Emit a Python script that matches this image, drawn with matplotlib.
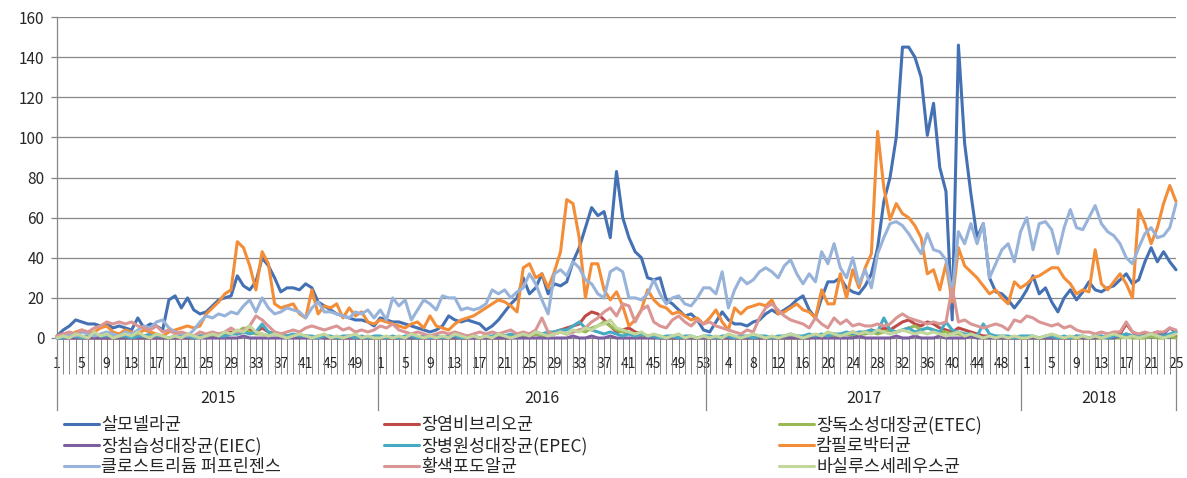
import numpy as np
import matplotlib
matplotlib.use("Agg")
from matplotlib import pyplot as plt
from matplotlib import transforms
from matplotlib.lines import Line2D

plt.rcParams["font.family"] = ["Noto Sans CJK KR", "DejaVu Sans"]

# weekly counts, 2015 w1 .. 2018 w25
years = ["2015", "2016", "2017", "2018"]
weeks_per_year = [52, 53, 51, 25]

salmonella = (
    [1, 4, 6, 9, 8, 7, 7, 6, 7, 5, 6, 5, 4, 10, 5, 7, 6, 4, 19, 21, 15, 20, 14, 12, 13, 16, 19, 20, 21, 31, 26, 24, 28, 40, 36, 30, 23, 25, 25, 24, 27, 25, 18, 16, 14, 12, 11, 10, 9, 9, 8, 6]
    + [10, 9, 8, 8, 7, 6, 5, 4, 3, 4, 6, 11, 9, 8, 9, 8, 7, 4, 6, 9, 13, 17, 20, 30, 22, 25, 32, 22, 27, 26, 28, 38, 45, 55, 65, 61, 63, 50, 83, 60, 50, 43, 40, 30, 29, 30, 19, 17, 14, 11, 12, 9, 4]
    + [3, 8, 13, 9, 7, 7, 6, 8, 9, 12, 14, 12, 14, 16, 19, 21, 14, 10, 20, 28, 28, 30, 25, 23, 22, 26, 32, 45, 68, 80, 100, 145, 145, 140, 130, 101, 117, 85, 73, 9, 146, 97, 72, 50, 57, 30, 23, 22, 19, 15, 19]
    + [24, 31, 22, 25, 18, 13, 20, 24, 19, 23, 28, 24, 23, 25, 26, 29, 32, 27, 29, 38, 45, 38, 43, 38, 34]
)
vibrio = (
    [0, 0, 0, 0, 0, 0, 0, 0, 0, 0, 0, 0, 0, 0, 0, 0, 0, 0, 0, 0, 0, 0, 0, 1, 1, 2, 1, 2, 3, 2, 3, 4, 3, 5, 3, 2, 2, 1, 1, 1, 1, 0, 1, 0, 0, 0, 0, 0, 0, 0, 0, 0]
    + [0, 0, 0, 0, 0, 0, 0, 0, 0, 0, 0, 0, 0, 0, 0, 0, 0, 0, 0, 0, 0, 0, 1, 1, 1, 2, 1, 2, 3, 4, 5, 6, 7, 11, 13, 12, 9, 6, 3, 4, 5, 3, 2, 1, 1, 0, 0, 0, 0, 0, 0, 0, 0]
    + [0, 0, 0, 0, 0, 0, 0, 0, 0, 0, 0, 0, 0, 0, 0, 0, 0, 1, 1, 1, 2, 1, 2, 3, 2, 3, 4, 3, 5, 4, 6, 8, 9, 7, 6, 8, 7, 5, 4, 3, 5, 4, 3, 2, 1, 1, 0, 0, 0, 0, 0]
    + [0, 0, 0, 0, 0, 0, 0, 0, 0, 0, 0, 0, 0, 1, 1, 2, 7, 3, 1, 1, 1, 1, 2, 1, 1]
)
etec = (
    [0, 0, 1, 0, 0, 1, 0, 0, 1, 0, 0, 0, 1, 0, 0, 0, 1, 0, 0, 0, 1, 0, 0, 1, 0, 1, 2, 1, 2, 3, 5, 3, 2, 2, 1, 3, 2, 1, 1, 0, 1, 0, 0, 1, 0, 0, 0, 1, 0, 0, 0, 0]
    + [0, 0, 0, 0, 0, 0, 0, 0, 1, 0, 0, 0, 0, 0, 0, 1, 0, 0, 0, 0, 0, 1, 0, 1, 1, 2, 1, 2, 2, 3, 2, 3, 4, 3, 5, 6, 8, 6, 4, 3, 2, 2, 1, 1, 0, 1, 0, 0, 0, 0, 0, 0, 0]
    + [0, 0, 0, 0, 0, 0, 0, 0, 0, 0, 0, 0, 0, 0, 0, 0, 0, 1, 0, 1, 1, 1, 2, 1, 2, 2, 3, 2, 3, 4, 3, 4, 5, 6, 4, 5, 4, 3, 3, 2, 2, 1, 1, 1, 0, 0, 0, 0, 0, 0, 0]
    + [0, 0, 0, 0, 0, 0, 0, 0, 0, 0, 0, 0, 0, 0, 0, 0, 1, 0, 0, 0, 1, 0, 0, 1, 0]
)
eiec = (
    [0, 0, 0, 0, 0, 0, 0, 0, 0, 0, 0, 0, 0, 0, 0, 0, 0, 0, 0, 0, 0, 0, 0, 0, 0, 0, 0, 0, 0, 0, 1, 0, 0, 0, 0, 0, 0, 0, 0, 0, 0, 0, 0, 0, 0, 0, 0, 0, 0, 0, 0, 0]
    + [0, 0, 0, 0, 0, 0, 0, 0, 0, 0, 0, 0, 0, 0, 0, 0, 0, 0, 0, 0, 0, 0, 0, 0, 0, 0, 0, 0, 0, 0, 0, 1, 0, 0, 1, 0, 0, 1, 0, 0, 0, 0, 0, 0, 0, 0, 0, 0, 0, 0, 0, 0, 0]
    + [0, 0, 0, 0, 0, 0, 0, 0, 0, 0, 0, 0, 0, 0, 0, 0, 0, 0, 0, 0, 0, 0, 0, 0, 1, 0, 0, 0, 0, 0, 1, 0, 0, 1, 0, 0, 0, 1, 0, 0, 0, 0, 1, 0, 0, 0, 0, 0, 0, 0, 0]
    + [0, 0, 0, 0, 0, 0, 0, 0, 1, 0, 0, 0, 1, 0, 0, 1, 2, 1, 1, 2, 2, 3, 2, 5, 3]
)
epec = (
    [0, 0, 1, 1, 0, 1, 2, 1, 1, 2, 1, 1, 0, 1, 1, 2, 1, 1, 0, 1, 1, 1, 0, 1, 1, 2, 1, 1, 2, 2, 3, 2, 3, 7, 3, 2, 1, 1, 2, 1, 1, 1, 0, 1, 1, 0, 1, 1, 0, 1, 0, 1]
    + [1, 0, 1, 0, 1, 1, 0, 1, 0, 1, 0, 1, 1, 0, 1, 1, 0, 1, 1, 2, 1, 2, 1, 2, 2, 3, 2, 3, 3, 4, 4, 6, 8, 5, 4, 3, 2, 3, 2, 1, 2, 1, 2, 1, 1, 0, 1, 1, 0, 1, 1, 0, 1]
    + [1, 0, 1, 1, 0, 1, 1, 0, 1, 1, 0, 1, 1, 2, 1, 1, 2, 1, 2, 1, 2, 2, 3, 2, 3, 3, 4, 3, 10, 4, 3, 4, 5, 3, 4, 5, 4, 3, 8, 4, 3, 2, 2, 1, 7, 2, 1, 1, 1, 0, 1]
    + [1, 1, 0, 1, 1, 0, 1, 0, 1, 1, 0, 1, 1, 0, 1, 1, 2, 1, 1, 1, 2, 1, 1, 2, 3]
)
campylobacter = (
    [1, 2, 1, 3, 4, 2, 3, 5, 6, 3, 2, 4, 3, 2, 4, 3, 2, 1, 3, 4, 5, 6, 5, 6, 12, 15, 18, 22, 24, 48, 45, 36, 24, 43, 37, 17, 15, 16, 17, 12, 10, 24, 12, 16, 15, 17, 10, 15, 11, 13, 8, 7]
    + [9, 8, 7, 6, 5, 7, 8, 5, 11, 6, 5, 4, 7, 9, 10, 11, 13, 15, 17, 19, 18, 16, 13, 35, 37, 30, 32, 25, 33, 43, 69, 67, 50, 20, 37, 37, 24, 19, 23, 16, 6, 9, 14, 24, 19, 16, 15, 12, 13, 11, 9, 10, 7]
    + [10, 14, 8, 4, 15, 12, 15, 16, 17, 16, 19, 12, 13, 15, 17, 14, 13, 10, 24, 17, 17, 32, 20, 34, 25, 35, 42, 103, 75, 59, 67, 62, 60, 56, 50, 32, 34, 24, 37, 18, 45, 36, 33, 30, 26, 22, 24, 20, 17, 28, 25]
    + [27, 30, 31, 33, 35, 35, 30, 27, 22, 24, 23, 44, 27, 24, 28, 32, 27, 20, 64, 57, 47, 55, 67, 76, 68]
)
clostridium = (
    [0, 1, 2, 1, 3, 2, 1, 2, 3, 2, 1, 3, 2, 4, 6, 5, 8, 9, 5, 3, 2, 1, 4, 8, 11, 10, 12, 11, 13, 12, 16, 19, 13, 20, 15, 12, 13, 15, 14, 13, 10, 15, 18, 13, 13, 12, 11, 10, 13, 12, 14, 10]
    + [14, 9, 20, 16, 19, 9, 14, 19, 17, 14, 21, 20, 20, 14, 15, 14, 15, 17, 24, 22, 24, 20, 23, 25, 32, 27, 19, 12, 32, 34, 31, 38, 35, 29, 27, 22, 20, 33, 35, 33, 20, 20, 19, 22, 29, 22, 17, 20, 21, 17, 16, 20, 25]
    + [25, 22, 33, 15, 24, 30, 27, 29, 33, 35, 33, 30, 36, 39, 32, 27, 32, 28, 43, 37, 47, 35, 30, 40, 27, 34, 25, 42, 50, 57, 58, 56, 52, 47, 42, 52, 44, 43, 39, 22, 53, 47, 57, 47, 57, 30, 37, 44, 47, 38, 53]
    + [60, 44, 57, 58, 54, 42, 55, 64, 55, 54, 60, 66, 57, 53, 51, 47, 40, 37, 45, 52, 55, 50, 51, 55, 67]
)
staph = (
    [1, 2, 3, 2, 4, 3, 5, 6, 8, 7, 8, 7, 8, 6, 5, 4, 6, 3, 4, 2, 3, 2, 1, 3, 2, 3, 2, 3, 5, 3, 4, 6, 11, 9, 6, 3, 2, 3, 4, 3, 5, 6, 5, 4, 5, 6, 4, 5, 3, 4, 3, 4]
    + [6, 5, 7, 4, 3, 2, 3, 2, 1, 2, 3, 2, 3, 2, 1, 2, 3, 2, 3, 2, 3, 4, 2, 3, 2, 4, 10, 3, 2, 3, 2, 3, 4, 5, 8, 10, 13, 15, 11, 17, 16, 8, 14, 16, 8, 6, 5, 9, 11, 8, 6, 9, 7]
    + [8, 6, 5, 4, 3, 2, 4, 3, 10, 15, 17, 14, 11, 9, 8, 7, 5, 10, 7, 5, 10, 7, 9, 6, 7, 6, 6, 7, 6, 7, 10, 12, 10, 9, 8, 7, 8, 7, 8, 25, 8, 9, 7, 6, 5, 6, 7, 6, 4, 9, 8]
    + [11, 10, 8, 7, 6, 7, 5, 6, 4, 3, 3, 2, 3, 2, 3, 3, 8, 3, 2, 3, 2, 3, 3, 5, 4]
)
bacillus = (
    [0, 1, 0, 2, 1, 0, 3, 1, 2, 0, 1, 2, 1, 3, 1, 0, 2, 1, 0, 1, 0, 2, 1, 0, 1, 2, 1, 3, 2, 4, 3, 6, 3, 2, 1, 2, 1, 0, 1, 2, 1, 0, 1, 2, 0, 1, 0, 1, 2, 0, 1, 0]
    + [0, 1, 0, 1, 0, 2, 1, 0, 1, 0, 1, 0, 2, 1, 0, 1, 0, 1, 0, 2, 1, 0, 1, 2, 1, 3, 2, 1, 2, 3, 2, 4, 3, 5, 4, 6, 7, 9, 5, 4, 3, 2, 3, 1, 2, 1, 0, 1, 2, 0, 1, 0, 1]
    + [0, 1, 0, 2, 1, 0, 1, 2, 1, 0, 1, 0, 1, 2, 1, 0, 1, 2, 1, 3, 2, 1, 2, 3, 2, 3, 2, 4, 3, 2, 3, 4, 3, 2, 3, 2, 3, 2, 1, 2, 3, 1, 2, 1, 0, 1, 0, 1, 0, 1, 0]
    + [0, 1, 0, 1, 2, 1, 0, 1, 0, 1, 0, 1, 0, 1, 2, 1, 0, 1, 0, 1, 2, 1, 0, 1, 2]
)

series_names = ["살모넬라균", "장염비브리오균", "장독소성대장균(ETEC)",
                "장침습성대장균(EIEC)", "장병원성대장균(EPEC)", "캄필로박터균",
                "클로스트리듐 퍼프린젠스", "황색포도알균", "바실루스세레우스균"]
series_values = [salmonella, vibrio, etec, eiec, epec, campylobacter,
                 clostridium, staph, bacillus]
series_colors = ["#4471B3", "#BE4B48", "#98B954", "#7D5FA0", "#46AAC5",
                 "#F38D37", "#98B3DA", "#D99694", "#C3D69B"]

weeks = [w for n in weeks_per_year for w in range(1, n + 1)]
n_points = len(weeks)
for vals in series_values:
    assert len(vals) == n_points, len(vals)
x = np.arange(n_points)

grey = "#878787"
text_col = "#262626"

fig = plt.figure(figsize=(11.87, 4.78), dpi=100)
ax = fig.add_axes([57 / 1187, 140 / 478, 1119 / 1187, 321 / 478])

lines = []
for k, (name, vals, col) in enumerate(zip(series_names, series_values, series_colors)):
    ln, = ax.plot(x, vals, color=col, lw=2.2, solid_joinstyle="round",
                  solid_capstyle="round", zorder=3 + k, clip_on=False)
    lines.append(ln)

ax.set_xlim(0, n_points - 1)
ax.set_ylim(0, 160)
ax.set_yticks(np.arange(0, 161, 20))
ax.yaxis.grid(True, color=grey, lw=0.9)
ax.set_axisbelow(True)
for s in ["top", "right"]:
    ax.spines[s].set_visible(False)
for s in ["left", "bottom"]:
    ax.spines[s].set_color(grey)
    ax.spines[s].set_linewidth(0.9)

# week labels every 4th category, tick line for every category
ax.set_xticks(x[::4])
ax.set_xticklabels([str(weeks[i]) for i in x[::4]])
ax.set_xticks(x, minor=True)
ax.tick_params(axis="x", which="both", length=26, width=0.7, color=grey,
               direction="out")
ax.tick_params(axis="x", which="major", pad=-12, labelsize=10, labelcolor=text_col)
ax.tick_params(axis="y", length=4, width=0.9, color=grey, pad=5,
               labelsize=11, labelcolor=text_col)

# year groups under the week labels
trans = transforms.blended_transform_factory(ax.transData, ax.transAxes)
bounds = np.concatenate([[0], np.cumsum(weeks_per_year)]) * (n_points - 1) / n_points
for b in bounds:
    ax.plot([b, b], [0, -0.225], color=grey, lw=0.9, transform=trans, clip_on=False)
for yr, b0, b1 in zip(years, bounds[:-1], bounds[1:]):
    ax.text((b0 + b1) / 2, -0.187, yr, transform=trans, ha="center", va="center",
            fontsize=11.5, color=text_col)

# legend, three columns
col_x = [64, 384, 779]
for c in range(3):
    idx = [c, c + 3, c + 6]
    fig.legend([lines[i] for i in idx], [series_names[i] for i in idx],
               loc="upper left", bbox_to_anchor=(col_x[c] / 1187, 1 - 416 / 478),
               frameon=False, fontsize=12.5, handlelength=2.0, handletextpad=0.15,
               borderpad=0, borderaxespad=0, labelspacing=0.15, labelcolor=text_col)

fig.savefig("out.png", dpi=100)
